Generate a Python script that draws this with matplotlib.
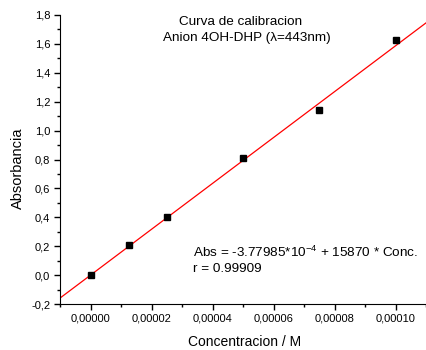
import numpy as np
import matplotlib
matplotlib.use("Agg")
import matplotlib.pyplot as plt
from matplotlib.ticker import MultipleLocator, FuncFormatter

plt.rcParams['font.family'] = ['Liberation Sans', 'DejaVu Sans']
plt.rcParams['mathtext.default'] = 'regular'

# calibration data
conc = [0.0, 0.0000125, 0.000025, 0.00005, 0.000075, 0.0001]
absorb = [0.0, 0.205, 0.40, 0.807, 1.145, 1.625]
intercept = -3.77985e-4
slope = 15870

W, H = 426, 350
fig = plt.figure(figsize=(W/100, H/100), dpi=100)
ax = fig.add_axes([60/W, 1 - 304/H, 1 - 60/W, (304 - 15)/H])

xmin, xmax = -0.00001, 0.00011
xl = np.array([xmin, xmax])
ax.plot(xl, intercept + slope*xl, color='red', lw=0.9)
ax.plot(conc, absorb, 's', color='black', ms=4.3)

ax.set_xlim(xmin, xmax)
ax.set_ylim(-0.2, 1.8)

for s in ['top', 'right']:
    ax.spines[s].set_visible(False)

ax.xaxis.set_major_locator(MultipleLocator(0.00002))
ax.xaxis.set_minor_locator(MultipleLocator(0.00001))
ax.yaxis.set_major_locator(MultipleLocator(0.2))
ax.yaxis.set_minor_locator(MultipleLocator(0.1))
ax.xaxis.set_major_formatter(FuncFormatter(lambda v, p: f"{v:.5f}".replace('.', ',').replace('-0,00000', '0,00000')))
ax.yaxis.set_major_formatter(FuncFormatter(lambda v, p: f"{v:.1f}".replace('.', ',').replace('-0,0', '0,0')))
ax.tick_params(which='major', direction='out', length=4, width=1, labelsize=8, pad=3)
ax.tick_params(which='minor', direction='out', length=2.5, width=1)

fig.text(245/W, 1 - 342/H, 'Concentracion / M', fontsize=10, ha='center', va='center')
fig.text(18/W, 1 - 168/H, 'Absorbancia', fontsize=10.5, ha='center', va='center', rotation=90)

fig.text(241/W, 1 - 22/H, 'Curva de calibracion', fontsize=9.7, ha='center', va='center')
fig.text(247/W, 1 - 38/H, 'Anion 4OH-DHP (λ=443nm)', fontsize=9.7, ha='center', va='center')
fig.text(193/W, 1 - 252/H, 'Abs = -3.77985*10$^{-4}$ + 15870 * Conc.', fontsize=9.7, ha='left', va='center')
fig.text(193/W, 1 - 269/H, 'r = 0.99909', fontsize=9.7, ha='left', va='center')

fig.savefig('out.png', dpi=100)
